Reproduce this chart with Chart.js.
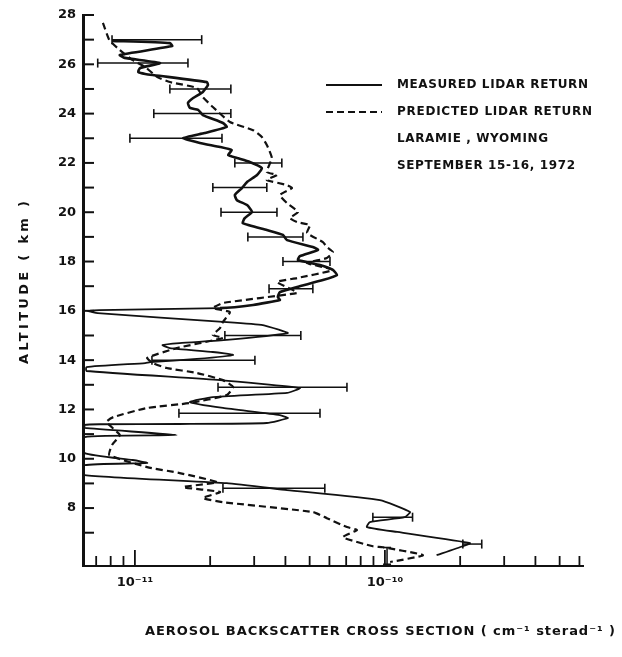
<!DOCTYPE html>
<html>
<head>
<meta charset="utf-8">
<script src="https://cdn.jsdelivr.net/npm/chart.js@4/dist/chart.umd.min.js"></script>
<style>
  html, body { margin: 0; padding: 0; background: #fff; }
  #wrap { width: 622px; height: 657px; position: relative; }
</style>
</head>
<body>
<div id="wrap"><canvas id="lidar"></canvas></div>
<script>
// backscatter values are kept in units of 1e-11 cm^-1 sterad^-1
const UNIT = 1e-11;

// measured lidar return (solid curve)
const measuredAlt = [26.95, 26.86, 26.74, 26.38, 26.26, 26.05, 25.85, 25.69, 25.61, 25.28, 25.16, 24.88, 24.63, 24.43, 24.23, 24.15, 23.94, 23.62, 23.46, 23.21, 23.01, 22.81, 22.65, 22.52, 22.32, 22.2, 22.04, 21.79, 21.51, 21.23, 20.98, 20.7, 20.49, 20.29, 20.01, 19.76, 19.56, 19.28, 19.08, 18.87, 18.59, 18.47, 18.22, 18.06, 17.86, 17.66, 17.45, 17.25, 16.97, 16.76, 16.56, 16.44, 16.24, 16.11, 16.03, 15.99, 15.91, 15.55, 15.42, 15.22, 15.1, 14.82, 14.69, 14.61, 14.49, 14.33, 14.21, 14.05, 13.92, 13.88, 13.72, 13.56, 13.19, 12.87, 12.67, 12.5, 12.3, 12.06, 11.77, 11.65, 11.45, 11.41, 11.4, 11.37, 11.25, 10.96, 10.88, 10.23, 9.95, 9.83, 9.74, 9.34, 9.01, 8.73, 8.32, 7.84, 7.63, 7.43, 7.23, 7.03, 6.58, 6.45, 6.09];
const measuredVal = [0.81, 1.38, 1.41, 0.87, 0.91, 1.26, 1.05, 1.03, 1.1, 1.94, 1.96, 1.87, 1.71, 1.63, 1.66, 1.79, 1.87, 2.25, 2.33, 1.9, 1.56, 1.82, 2.19, 2.44, 2.36, 2.56, 2.88, 3.22, 3.08, 2.81, 2.68, 2.51, 2.56, 2.81, 2.94, 2.75, 2.7, 3.37, 3.91, 4.06, 5.15, 5.4, 4.57, 4.49, 5.5, 6.19, 6.43, 5.65, 4.45, 3.8, 3.73, 3.8, 2.97, 2.19, 0.72, 0.65, 0.71, 2.25, 3.25, 3.8, 4.09, 2.33, 1.51, 1.29, 1.38, 2.05, 2.47, 1.77, 1.15, 1.1, 0.64, 0.64, 2.19, 4.57, 4.06, 2.05, 1.66, 2.25, 3.8, 4.09, 3.37, 1.51, 0.72, 0.63, 0.63, 1.47, 0.63, 0.63, 0.98, 1.12, 0.63, 0.63, 2.33, 4.06, 9.55, 12.6, 12.0, 8.71, 8.47, 11.2, 21.9, 20.5, 16.1];

// predicted lidar return (dashed curve)
const predictedAlt = [27.68, 26.99, 26.58, 26.17, 25.89, 25.48, 25.28, 25.04, 24.67, 24.27, 23.66, 23.33, 23.05, 22.73, 22.2, 21.63, 21.51, 21.31, 21.1, 20.98, 20.7, 20.37, 20.01, 19.76, 19.6, 19.48, 19.16, 18.79, 18.59, 18.39, 18.14, 17.94, 17.66, 17.33, 17.17, 16.84, 16.72, 16.32, 16.11, 15.95, 15.55, 15.3, 15.02, 14.9, 14.49, 14.09, 13.88, 13.68, 13.48, 13.19, 12.91, 12.58, 12.26, 12.06, 11.69, 11.49, 10.96, 10.56, 10.15, 9.66, 9.42, 9.05, 8.85, 8.65, 8.41, 8.24, 7.84, 7.59, 7.23, 7.11, 6.82, 6.45, 6.41, 6.09, 5.81];
const predictedVal = [0.745, 0.79, 0.87, 0.98, 1.1, 1.23, 1.38, 1.77, 1.87, 2.05, 2.4, 2.97, 3.22, 3.37, 3.53, 3.37, 3.7, 3.37, 4.06, 4.25, 3.8, 4.06, 4.49, 4.17, 4.45, 5.01, 4.88, 5.65, 5.86, 6.19, 5.86, 4.88, 6.19, 4.45, 3.7, 4.29, 4.45, 2.25, 2.05, 2.4, 2.25, 2.19, 2.05, 2.25, 1.47, 1.12, 1.18, 1.34, 1.77, 2.25, 2.47, 2.33, 1.66, 1.12, 0.82, 0.77, 0.87, 0.81, 0.79, 1.12, 1.51, 2.13, 1.56, 2.19, 1.87, 2.25, 5.15, 5.86, 7.05, 7.73, 6.79, 8.95, 9.82, 14.2, 10.5];

// horizontal error bars on the measured return
const errAlt  = [27.0, 26.05, 25.0, 24.0, 23.0, 22.0, 21.0, 20.0, 19.0, 18.0, 16.9, 15.0, 14.0, 12.9, 11.85, 8.8, 7.63, 6.54];
const errLow  = [0.81, 0.71, 1.38, 1.19, 0.955, 2.51, 2.05, 2.21, 2.83, 3.91, 3.44, 2.29, 1.17, 2.15, 1.5, 2.25, 8.95, 20.5];
const errHigh = [1.85, 1.63, 2.42, 2.42, 2.23, 3.87, 3.37, 3.7, 4.7, 6.03, 5.15, 4.61, 3.02, 7.05, 5.5, 5.75, 12.9, 24.4];

// the one vertical bar near the ground
const vbarVal = [10.2, 10.2];
const vbarAlt = [6.4, 5.72];

const legendLabels = ['MEASURED LIDAR RETURN', 'PREDICTED LIDAR RETURN'];
const noteLines = ['LARAMIE , WYOMING', 'SEPTEMBER 15-16, 1972'];
const xTitle = 'AEROSOL BACKSCATTER CROSS SECTION ( cm\u207B\u00B9 sterad\u207B\u00B9 )';
const yTitle = 'ALTITUDE ( km )';

const FONT = "'DejaVu Sans', sans-serif";
const INK = '#111';

const toPoints = (vals, alts) => vals.map((v, i) => ({ x: v * UNIT, y: alts[i] }));

// the pen gets thinner below about 16 km in the original
const penWidth = (hi, lo) => seg => (seg.p0.parsed.y < 16.2 ? lo : hi);

const datasets = [
  {
    label: legendLabels[0],
    data: toPoints(measuredVal, measuredAlt),
    showLine: true, borderColor: INK, borderWidth: 2.4, pointRadius: 0, tension: 0.15,
    segment: { borderWidth: penWidth(2.6, 1.8) }
  },
  {
    label: legendLabels[1],
    data: toPoints(predictedVal, predictedAlt),
    showLine: true, borderColor: INK, borderWidth: 2.2, borderDash: [7, 4], pointRadius: 0, tension: 0.15
  }
];

errAlt.forEach((a, i) => {
  datasets.push({
    label: 'err' + i,
    data: [{ x: errLow[i] * UNIT, y: a }, { x: errHigh[i] * UNIT, y: a }],
    showLine: true, borderColor: INK, borderWidth: 1.5,
    pointStyle: 'line', rotation: 90, pointRadius: 4.5,
    pointBorderColor: INK, pointBorderWidth: 1.6
  });
});

datasets.push({
  label: 'vbar',
  data: toPoints(vbarVal, vbarAlt),
  showLine: true, borderColor: INK, borderWidth: 1.5,
  pointStyle: 'line', rotation: 0, pointRadius: 4,
  pointBorderColor: INK, pointBorderWidth: 1.6
});

const isDecade = v => Math.abs(Math.log10(v) - Math.round(Math.log10(v))) < 1e-6;

// stretch text to a target width with letter spacing
function fitText(ctx, txt, x, y, width) {
  ctx.letterSpacing = '0px';
  const w0 = ctx.measureText(txt).width;
  const ls = (width - w0) / Math.max(1, txt.length - 1);
  ctx.letterSpacing = ls + 'px';
  ctx.textAlign = 'left';
  ctx.fillText(txt, x, y);
  ctx.letterSpacing = '0px';
}

const decorations = {
  id: 'decorations',
  afterDraw(chart) {
    const ctx = chart.ctx;
    const xs = chart.scales.x, ys = chart.scales.y;
    const area = chart.chartArea;
    ctx.save();
    ctx.strokeStyle = INK;
    ctx.fillStyle = INK;

    // inward tick marks on the altitude axis
    ctx.lineWidth = 2;
    for (let v = 7; v <= 28; v++) {
      const y = ys.getPixelForValue(v);
      ctx.beginPath();
      ctx.moveTo(area.left, y);
      ctx.lineTo(area.left + 11, y);
      ctx.stroke();
    }

    // inward tick marks on the log axis
    ctx.lineWidth = 1.8;
    const xticks = [];
    [1e-12, 1e-11, 1e-10].forEach(d => {
      for (let m = 1; m <= 9; m++) xticks.push(m * d);
    });
    xticks.filter(v => v >= 6.9e-12 && v <= 6.1e-10).forEach(v => {
      const x = xs.getPixelForValue(v);
      const len = isDecade(v) ? 16 : 10;
      ctx.beginPath();
      ctx.moveTo(x, area.bottom);
      ctx.lineTo(x, area.bottom - len);
      ctx.stroke();
    });

    // legend
    ctx.lineWidth = 2;
    ctx.beginPath();
    ctx.moveTo(326, 85);
    ctx.lineTo(382, 85);
    ctx.stroke();
    ctx.setLineDash([7, 4]);
    ctx.beginPath();
    ctx.moveTo(326, 112);
    ctx.lineTo(382, 112);
    ctx.stroke();
    ctx.setLineDash([]);

    ctx.font = 'bold 12px ' + FONT;
    ctx.textBaseline = 'middle';
    fitText(ctx, legendLabels[0], 397, 85, 191);
    fitText(ctx, legendLabels[1], 397, 112, 195);
    fitText(ctx, noteLines[0], 397, 139, 151);
    fitText(ctx, noteLines[1], 397, 166, 178);

    // axis titles
    ctx.font = 'bold 13px ' + FONT;
    fitText(ctx, xTitle, 145, 632, 470);
    ctx.translate(25, 282);
    ctx.rotate(-Math.PI / 2);
    fitText(ctx, yTitle, -82, 0, 163);
    ctx.restore();
  }
};

new Chart(document.getElementById('lidar'), {
  type: 'scatter',
  data: { datasets: datasets },
  options: {
    responsive: true,
    maintainAspectRatio: false,
    animation: false,
    devicePixelRatio: 1,
    layout: { padding: { top: 15, right: 39, left: 0, bottom: 0 } },
    plugins: { legend: { display: false }, tooltip: { enabled: false } },
    scales: {
      x: {
        type: 'logarithmic',
        min: 6.2e-12,
        max: 6.2e-10,
        grid: { display: false, drawTicks: false },
        border: { display: true, color: INK, width: 2 },
        ticks: {
          autoSkip: false, maxRotation: 0, padding: 9, color: INK,
          font: { family: FONT, size: 13, weight: 'bold' },
          callback: v => {
            if (!isDecade(v)) return '';
            const e = Math.round(Math.log10(v));
            if (e === -11) return '10\u207B\u00B9\u00B9';
            if (e === -10) return '10\u207B\u00B9\u2070';
            return '';
          }
        },
        afterFit: s => { s.height = 91; }
      },
      y: {
        type: 'linear',
        min: 5.65,
        max: 28,
        grid: { display: false, drawTicks: false },
        border: { display: true, color: INK, width: 3 },
        ticks: {
          stepSize: 1, autoSkip: false, padding: 7, color: INK,
          font: { family: FONT, size: 13, weight: 'bold' },
          callback: v => (Number.isInteger(v) && v % 2 === 0 && v >= 8) ? String(v) : ''
        },
        afterFit: s => { s.width = 83; }
      }
    }
  },
  plugins: [decorations]
});
</script>
</body>
</html>
